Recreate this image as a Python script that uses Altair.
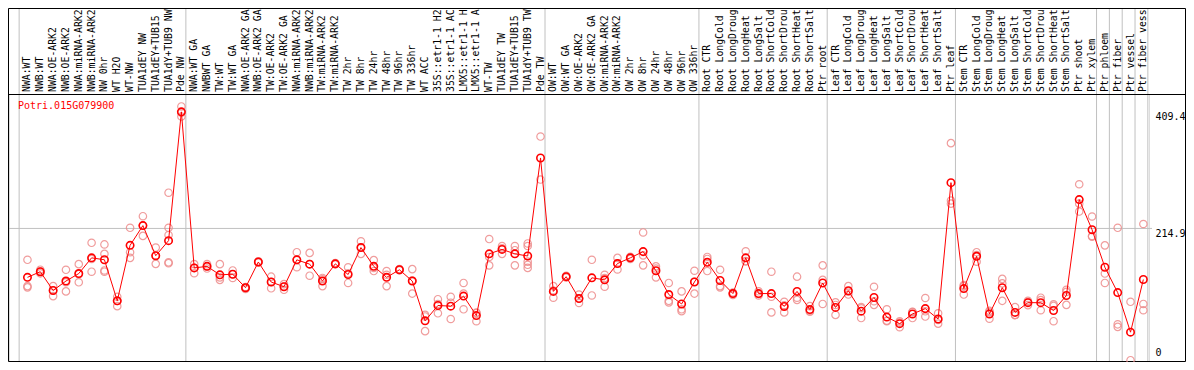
import altair as alt
import pandas as pd

gene = "Potri.015G079900"

categories = [
    "NWA:WT", "NWB:WT", "NWA:OE-ARK2", "NWB:OE-ARK2", "NWA:miRNA-ARK2", "NWB:miRNA-ARK2",
    "NW 0hr", "WT H2O", "WT-NW", "TUA1dEY NW", "TUA1dEY+TUB15", "TUA1dY+TUB9 NW", "Pde NW",
    "NWA:WT GA", "NWBWT GA", "TW:WT", "TW:WT GA", "NWA:OE-ARK2 GA", "NWB:OE-ARK2 GA",
    "TW:OE-ARK2", "TW:OE-ARK2 GA", "NWA:miRNA-ARK2", "NWB:miRNA-ARK2", "TW:miRNA-ARK2",
    "TW:miRNA-ARK2", "TW 2hr", "TW 8hr", "TW 24hr", "TW 48hr", "TW 96hr", "TW 336hr",
    "WT ACC", "35S::etr1-1 H2", "35S::etr1-1 AC", "LMX5::etr1-1 H", "LMX5::etr1-1 A",
    "WT-TW", "TUA1dEY TW", "TUA1dEY+TUB15", "TUA1dY+TUB9 TW", "Pde TW",
    "OW:WT", "OW:WT GA", "OW:OE-ARK2", "OW:OE-ARK2 GA", "OW:miRNA-ARK2", "OW:miRNA-ARK2",
    "OW 2hr", "OW 8hr", "OW 24hr", "OW 48hr", "OW 96hr", "OW 336hr",
    "Root CTR", "Root LongCold", "Root LongDroug", "Root LongHeat", "Root LongSalt",
    "Root ShortCold", "Root ShortDrou", "Root ShortHeat", "Root ShortSalt", "Ptr root",
    "Leaf CTR", "Leaf LongCold", "Leaf LongDroug", "Leaf LongHeat", "Leaf LongSalt",
    "Leaf ShortCold", "Leaf ShortDrou", "Leaf ShortHeat", "Leaf ShortSalt", "Ptr leaf",
    "Stem CTR", "Stem LongCold", "Stem LongDroug", "Stem LongHeat", "Stem LongSalt",
    "Stem ShortCold", "Stem ShortDrou", "Stem ShortHeat", "Stem ShortSalt", "Ptr shoot",
    "Ptr xylem", "Ptr phloem", "Ptr fiber", "Ptr vessel", "Ptr fiber vess",
]

means = [
    133.3, 142.7, 111.4, 127.1, 139.6, 165.8, 162.6, 94.1, 186.7, 219.6, 169.4, 194.5, 409.4,
    149, 151.6, 137.5, 138.5, 116, 158.9, 125.5, 117.6, 162.5, 155.3, 127.1, 155.8, 138, 183,
    151.6, 133.3, 145.9, 127.1, 60.7, 86.3, 85.2, 102, 69.5, 172.5, 179.9, 172.5, 168.9, 332.5,
    109.8, 134.4, 97.8, 132.5, 129.1, 156.3, 165.8, 176.2, 144.3, 104.6, 88.9, 125.5,
    158.4, 128.1, 106.2, 165.8, 106.2, 106.2, 84.7, 109.8, 79.5, 123.9,
    83.1, 110.9, 76.9, 99.6, 67, 56, 72.2, 81.1, 63.8, 291.3,
    114.5, 168.4, 72.2, 116, 74.8, 91, 91, 78, 103, 263, 212.8,
    150.1, 107.8, 41.8, 129.7,
]

replicates = [
    [162.6, 118.7, 116.6], [146, 143, 140], [118.7, 102, 111.4], [145.9, 109.8, 125],
    [155.3, 125, 138.5], [190.9, 142.7, 163.8], [188.2, 172.5, 144.8, 142.7], [100.9, 85.2, 94.1],
    [216, 175.2, 165.8], [235.3, 202.4, 219.6], [183, 155.8, 169.4],
    [274.5, 216, 203.9, 158.4, 156.9], [418.4, 401.6, 408],
    [155.3, 140.1, 149], [155.3, 151.6, 148], [155.3, 129.1, 133.3], [144.8, 132.3, 138.5],
    [117, 114, 116], [160, 158, 158.7], [134.4, 115, 125.5], [121.9, 112.5, 118],
    [175.2, 150.1, 163.1], [174.1, 136, 155.3], [132.3, 118.7, 130], [157, 155, 155.5],
    [150.1, 123.9, 140], [193.4, 172.5, 183], [162, 143.8, 149], [143.8, 118.7, 137.5],
    [147, 145, 146], [147, 106.2, 128], [70.6, 43.5, 68], [96.8, 73.3, 88.8],
    [100.9, 63.8, 91], [123.9, 106.2, 80], [73.7, 60.1, 74.7], [197.2, 153.3, 167.3],
    [185.6, 172.5, 181.6], [185.6, 153.3, 178.6], [189.8, 185.6, 159.5, 154.2, 149],
    [368.2, 296.5],
    [118.7, 99.3, 111.4], [136, 133, 134.4], [104.6, 90.5, 98.3], [162.6, 103.1],
    [137.6, 117.6, 132], [165.8, 146.4, 156.7], [167.7, 164, 165.8], [208.2, 153.3, 169.9],
    [151.6, 133.3, 148], [123.9, 94.1, 91.5], [109.8, 80, 76.9], [144.3, 106.2, 126],
    [167.3, 143.8, 164], [145.9, 118.7, 116.6], [108, 104, 106.5], [176.8, 160.5, 160],
    [110, 103, 105.6], [142.7, 100.9, 74.8], [92.5, 74.8, 86.8], [134.4, 99.3, 95.7],
    [85.2, 75.8, 77.5], [153.3, 129.1, 88.9],
    [91.5, 70.6, 87.2], [118.7, 104.6, 109.4], [83.6, 65.4, 81.7], [117.6, 87.4, 93.5],
    [80, 60.1, 61], [58, 50, 60], [75.8, 65.4, 75.4], [98.8, 67.9, 76.6], [73.3, 56, 62.1],
    [357.2, 261.5, 256.2],
    [120.3, 104.6, 118.6], [175.2, 159.5, 170.5], [77.3, 64.3, 75], [130.7, 94.1, 123.2],
    [83.6, 70.6, 70.2], [94, 92, 87], [99.3, 78.4, 95.3], [88.3, 60.1, 85.6],
    [112.5, 87.4, 109.1], [288.6, 256.2, 243.1], [234.8, 201.3, 202.3],
    [186.7, 139.6, 123.9], [216, 54.9, 50.7], [92.5, -5], [222.3, 88.9, 78.4],
]

group_starts = [0, 13, 41, 53, 63, 73, 84, 85, 86, 87, 88]
y_ticks = [0, 214.9, 409.4]

# ---- tables ----
mean_df = pd.DataFrame({"idx": list(range(len(categories))), "name": categories, "value": means})
rep_rows = []
for i, reps in enumerate(replicates):
    for v in reps:
        rep_rows.append({"idx": i, "value": v})
rep_df = pd.DataFrame(rep_rows)
grid_df = pd.DataFrame({"gx": [g - 0.65 for g in group_starts]})
hgrid_df = pd.DataFrame({"v": [214.9]})

W, H = 1140, 267
TOP = 86
RIGHT = 37
FONT = "DejaVu Sans Mono"

xs = alt.Scale(domain=[-1.44, 87.44], nice=False, zero=False)
ys = alt.Scale(domain=[-6.3, 439.2], nice=False, zero=False)
yaxis = alt.Axis(
    orient="right", values=y_ticks, grid=False, ticks=False, domain=False,
    labelPadding=6, labelFont=FONT, labelFontSize=10, labelColor="black",
    labelAlign="left",
    labelExpr="datum.value == 0 ? '0' : format(datum.value, '.1f')",
    labelBaseline={"condition": {"test": "datum.value == 0", "value": "bottom"}, "value": "top"},
    title=None,
)

frame = alt.Chart(mean_df.head(1)).mark_rect(
    fill="white", fillOpacity=0, stroke="black", strokeWidth=1
).encode(
    x=alt.value(-0.5), x2=alt.value(W + RIGHT - 0.5),
    y=alt.value(-TOP + 0.5), y2=alt.value(H + 0.5),
)

vgrid = alt.Chart(grid_df).mark_rule(color="#c0c0c0", strokeWidth=1).encode(
    x=alt.X("gx:Q", scale=xs, axis=None),
    y=alt.value(-TOP + 1), y2=alt.value(H),
)

hgrid = alt.Chart(hgrid_df).mark_rule(color="#c0c0c0", strokeWidth=1).encode(
    y=alt.Y("v:Q", scale=ys, axis=yaxis),
    x=alt.value(0), x2=alt.value(W + 3),
)

separator = alt.Chart(mean_df.head(1)).mark_rule(color="black", strokeWidth=1).encode(
    x=alt.value(-0.5), x2=alt.value(W + RIGHT - 0.5), y=alt.value(0.5),
)

labels = alt.Chart(mean_df).mark_text(
    angle=270, align="left", baseline="middle", font=FONT, fontSize=9.8, color="black", dx=2
).encode(
    x=alt.X("idx:Q", scale=xs, axis=None),
    y=alt.value(0),
    text="name:N",
)

reps = alt.Chart(rep_df).mark_point(
    shape="circle", filled=False, size=55, strokeWidth=1.2, color="#ee8c8c", opacity=0.85
).encode(
    x=alt.X("idx:Q", scale=xs, axis=None),
    y=alt.Y("value:Q", scale=ys, axis=yaxis),
)

line = alt.Chart(mean_df).mark_line(color="#ff0000", strokeWidth=1).encode(
    x=alt.X("idx:Q", scale=xs, axis=None),
    y=alt.Y("value:Q", scale=ys, axis=yaxis),
)

pts = alt.Chart(mean_df).mark_point(
    shape="circle", filled=False, size=55, strokeWidth=1.6, color="#ff0000", opacity=1
).encode(
    x=alt.X("idx:Q", scale=xs, axis=None),
    y=alt.Y("value:Q", scale=ys, axis=yaxis),
)

title = alt.Chart(mean_df.head(1)).mark_text(
    align="left", baseline="top", font=FONT, fontSize=10, color="#ff0000", text=gene
).encode(x=alt.value(9), y=alt.value(7))

chart = alt.layer(frame, vgrid, hgrid, separator, labels, reps, line, pts, title).properties(
    width=W, height=H,
    padding={"left": 1, "top": TOP, "right": RIGHT, "bottom": 1},
    autosize=alt.AutoSizeParams(type="none"),
).configure_view(stroke=None).configure(background="white", font=FONT)

chart.save("out.html", embed_options={"renderer": "svg", "actions": False})
